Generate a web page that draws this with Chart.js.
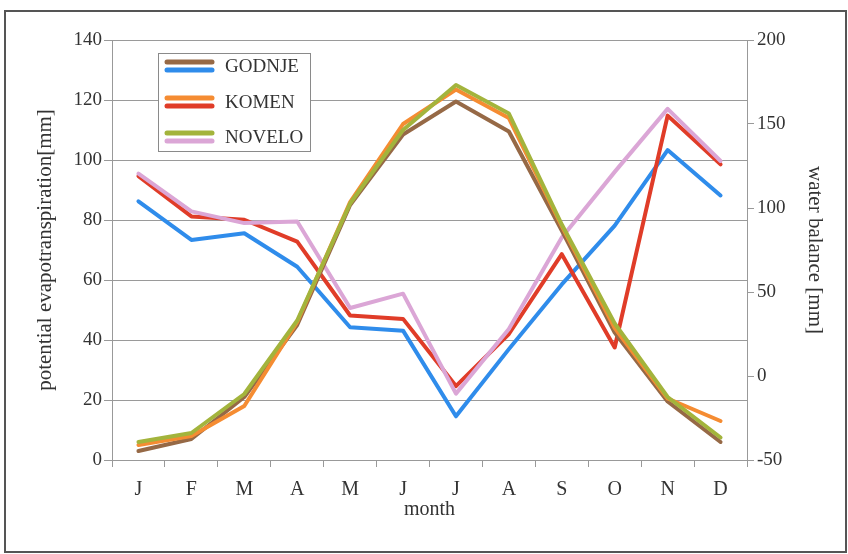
<!DOCTYPE html>
<html>
<head>
<meta charset="utf-8">
<script src="https://cdn.jsdelivr.net/npm/chart.js@4/dist/chart.umd.min.js"></script>
<style>
  html, body { margin: 0; padding: 0; background: #ffffff; }
  #c { display: block; }
</style>
</head>
<body>
<canvas id="c" width="848" height="554"></canvas>
<script>
// ---- data ----
const months = ['J', 'F', 'M', 'A', 'M', 'J', 'J', 'A', 'S', 'O', 'N', 'D'];
const stations = ['GODNJE', 'KOMEN', 'NOVELO'];

// potential evapotranspiration [mm] (left axis)
const petGodnje = [3, 7, 21, 45, 85, 108.5, 119.5, 109.5, 76.5, 42.5, 19.5, 6];
const petKomen  = [5, 8, 18, 46, 86, 112, 123.5, 114, 78, 44, 20.5, 13];
const petNovelo = [6, 9, 22, 46.5, 85.5, 110, 125, 115.5, 78.5, 45.5, 21, 7.5];

// water balance [mm] (right axis)
const balGodnje = [104, 81, 85, 65, 29, 27, -24, 16, 54.5, 89.5, 134.5, 107.5];
const balKomen  = [119, 95, 93, 80, 36, 34, -6, 25, 72.5, 17, 155, 126];
const balNovelo = [120.5, 98, 91, 92, 40.5, 49, -10.5, 28, 82.5, 121.5, 159, 128];

const petTicks = [0, 20, 40, 60, 80, 100, 120, 140];
const balTicks = [-50, 0, 50, 100, 150, 200];

// ---- styles ----
const FONT = "'Liberation Serif', 'Times New Roman', serif";
const TXT = '#333333';
const colors = {
  petGodnje: '#966946', balGodnje: '#2f8ceb',
  petKomen: '#f58c32',  balKomen: '#e03c28',
  petNovelo: '#a3b43c', balNovelo: '#dba6d6'
};

function ds(label, data, color, axis, order) {
  return {
    label, data, yAxisID: axis, order,
    borderColor: color, backgroundColor: color,
    borderWidth: 4, pointRadius: 0, tension: 0, fill: false,
    borderJoinStyle: 'round', borderCapStyle: 'round'
  };
}

const frame = {
  id: 'frame',
  beforeDraw(chart) {
    const ctx = chart.ctx;
    ctx.save();
    ctx.fillStyle = '#ffffff';
    ctx.fillRect(0, 0, chart.width, chart.height);
    ctx.strokeStyle = '#555555';
    ctx.lineWidth = 2;
    ctx.strokeRect(5, 11, 841, 541);
    ctx.restore();
  }
};

const legendBox = {
  id: 'legendBox',
  afterDatasetsDraw(chart) {
    const ctx = chart.ctx;
    const x0 = 158, y0 = 53, w = 152, h = 98;
    ctx.save();
    ctx.fillStyle = '#ffffff';
    ctx.fillRect(x0, y0, w, h);
    ctx.strokeStyle = '#8a8a8a';
    ctx.lineWidth = 1;
    ctx.strokeRect(x0 + 0.5, y0 + 0.5, w, h);
    const pairs = [
      [colors.petGodnje, colors.balGodnje],
      [colors.petKomen, colors.balKomen],
      [colors.petNovelo, colors.balNovelo]
    ];
    const rowY = [66, 102, 137];
    ctx.lineCap = 'round';
    ctx.lineWidth = 5;
    pairs.forEach((p, i) => {
      const cy = rowY[i];
      ctx.strokeStyle = p[0];
      ctx.beginPath(); ctx.moveTo(167, cy - 4); ctx.lineTo(212, cy - 4); ctx.stroke();
      ctx.strokeStyle = p[1];
      ctx.beginPath(); ctx.moveTo(167, cy + 4); ctx.lineTo(212, cy + 4); ctx.stroke();
      ctx.fillStyle = TXT;
      ctx.font = '19px ' + FONT;
      ctx.textBaseline = 'middle';
      ctx.textAlign = 'left';
      ctx.fillText(stations[i], 225, cy + 1);
    });
    ctx.restore();
  }
};

new Chart(document.getElementById('c'), {
  type: 'line',
  data: {
    labels: months,
    datasets: [
      ds(stations[2] + ' ETP', petNovelo, colors.petNovelo, 'yPet', 1),
      ds(stations[1] + ' ETP', petKomen, colors.petKomen, 'yPet', 2),
      ds(stations[0] + ' ETP', petGodnje, colors.petGodnje, 'yPet', 3),
      ds(stations[2] + ' WB', balNovelo, colors.balNovelo, 'yBal', 4),
      ds(stations[1] + ' WB', balKomen, colors.balKomen, 'yBal', 5),
      ds(stations[0] + ' WB', balGodnje, colors.balGodnje, 'yBal', 6)
    ]
  },
  options: {
    responsive: false,
    animation: false,
    events: [],
    layout: { padding: { top: 40, left: 0, right: 0, bottom: 0 } },
    plugins: { legend: { display: false }, tooltip: { enabled: false } },
    scales: {
      x: {
        type: 'category',
        offset: true,
        grid: { display: true, drawOnChartArea: false, offset: true, tickLength: 7, color: '#999999' },
        border: { display: true, color: '#999999', width: 1 },
        ticks: { color: TXT, font: { family: FONT, size: 20 }, padding: 11, maxRotation: 0, autoSkip: false },
        title: { display: true, text: 'month', color: TXT, font: { family: FONT, size: 20 }, padding: { top: 0, bottom: 32 } },
        afterFit(s) { s.height = 94; }
      },
      yPet: {
        position: 'left',
        min: 0, max: 140,
        afterBuildTicks(s) { s.ticks = petTicks.map(v => ({ value: v })); },
        grid: { color: '#9a9a9a', tickLength: 8, lineWidth: 1 },
        border: { display: true, color: '#999999', width: 1 },
        ticks: { color: TXT, font: { family: FONT, size: 19 }, padding: 2 },
        title: { display: true, text: 'potential evapotranspiration[mm]', color: TXT, font: { family: FONT, size: 21 }, padding: { top: 33, bottom: 0 } },
        afterFit(s) { s.width = 112; }
      },
      yBal: {
        position: 'right',
        min: -50, max: 200,
        afterBuildTicks(s) { s.ticks = balTicks.map(v => ({ value: v })); },
        grid: { drawOnChartArea: false, color: '#999999', tickLength: 7 },
        border: { display: true, color: '#999999', width: 1 },
        ticks: { color: TXT, font: { family: FONT, size: 19 }, padding: 3 },
        title: { display: true, text: 'water balance [mm]', color: TXT, font: { family: FONT, size: 21 }, padding: { top: 21, bottom: 0 } },
        afterFit(s) { s.width = 101; }
      }
    }
  },
  plugins: [frame, legendBox]
});
</script>
</body>
</html>
